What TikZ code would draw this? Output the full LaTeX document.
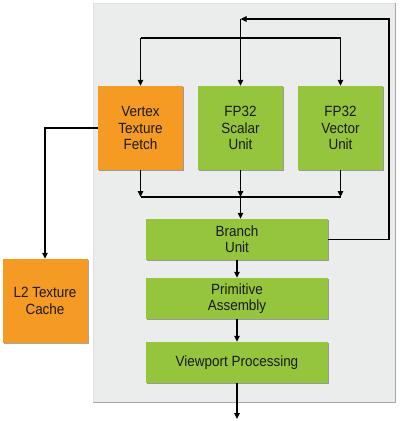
\documentclass[tikz,border=0pt]{standalone}
\usepackage{fontspec}
\setmainfont{Liberation Sans}
\newfontfamily\unitfont[FakeStretch=0.91]{Liberation Sans}
\usetikzlibrary{arrows.meta,shadows}
\definecolor{bgray}{HTML}{EBECEC}
\definecolor{bedge}{HTML}{A8A8A8}
\definecolor{orng}{HTML}{F59A23}
\definecolor{grn}{HTML}{95C43D}
\definecolor{txt}{HTML}{1A1A1A}
\tikzset{
  unit/.style={inner sep=0pt, align=center, text=txt,
    font=\unitfont\fontsize{14.8}{16.4}\selectfont,
    drop shadow={shadow xshift=1.3pt, shadow yshift=-1.3pt, fill=black, opacity=0.35}},
  ounit/.style={unit, fill=orng, minimum width=85pt, minimum height=84pt},
  gunit/.style={unit, fill=grn, minimum width=85pt, minimum height=84pt},
  wunit/.style={unit, fill=grn, minimum width=182pt, minimum height=41pt},
  conn/.style={line width=1.1pt, draw=black},
  arr/.style={conn, -{Triangle[length=6pt,width=5.5pt]}}
}
\begin{document}
\begin{tikzpicture}[x=1pt,y=-1pt]
\useasboundingbox (0,0) rectangle (400,421);
% background panel
\fill[bgray] (93,3) rectangle (395,402);
\draw[line width=0.6pt, draw=black!12] (93,402) -- (93,3) -- (395,3);
\draw[line width=1pt, draw=bedge] (93,402) -- (395,402) -- (395,3);
% nodes
\node[ounit] (vtf) at (140.5,128) {Vertex\\Texture\\Fetch};
\node[gunit] (scalar) at (240.5,128) {FP32\\Scalar\\Unit};
\node[gunit] (vector) at (340.5,128) {FP32\\Vector\\Unit};
\node[wunit] (branch) at (237,239.5) {Branch\\Unit};
\node[wunit] (prim) at (237,298.5) {Primitive\\Assembly};
\node[wunit] (view) at (237,362.5) {Viewport Processing};
\node[ounit] (l2) at (45,301) {L2 Texture\\Cache};
% coordinates
\coordinate (topL) at (140.5,38);
\coordinate (topR) at (340.5,38);
\coordinate (fbR) at (389,239.5);
\coordinate (fbT) at (389,19);
\coordinate (fbC) at (240.5,19);
\coordinate (mL) at (140.5,197);
\coordinate (mM) at (240.5,197);
\coordinate (mR) at (340.5,197);
\coordinate (l2c) at (45,128);
\coordinate (out) at (237,419);
% connectors
\draw[conn] (topL) -- (topR);
\draw[arr] (topL) -- (vtf.north);
\draw[arr] (topR) -- (vector.north);
\draw[arr] (branch.east) -- (fbR) -- (fbT) -- (fbC);
\draw[arr] (fbC) -- (scalar.north);
\draw[conn] (mL) -- (mR);
\draw[arr] (vtf.south) -- (mL);
\draw[arr] (vector.south) -- (mR);
\draw[arr] (scalar.south) -- (mM);
\draw[arr] (mM) -- (mM |- branch.north);
\draw[arr] (branch) -- (prim);
\draw[arr] (prim) -- (view);
\draw[arr] (view) -- (out);
\draw[arr] (vtf.west) -- (l2c) -- (l2.north);
\end{tikzpicture}
\end{document}
